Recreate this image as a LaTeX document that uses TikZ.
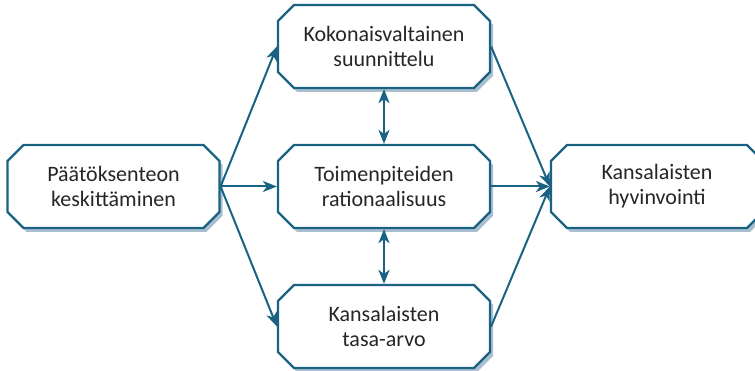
\documentclass[tikz,border=0pt]{standalone}
\usepackage{fontspec}
\setmainfont{Carlito}
\usetikzlibrary{shapes.misc,shadows,arrows.meta}
\definecolor{tealline}{HTML}{1A6282}
\definecolor{shadowblue}{HTML}{6F93AE}
\definecolor{textgray}{HTML}{262626}

\begin{document}
\begin{tikzpicture}[x=1pt, y=1pt,
		box/.style={chamfered rectangle, chamfered rectangle xsep=8pt, chamfered rectangle ysep=8pt,
			draw=tealline, line width=2.2pt, fill=white, minimum width=212pt, minimum height=83pt,
			inner sep=0pt, align=center, text=textgray, font=\fontsize{22}{25}\selectfont,
			drop shadow={shadow xshift=3pt, shadow yshift=-4pt, fill=shadowblue, opacity=.6}},
		link/.style={draw=tealline, line width=2pt, -{Stealth[length=14pt, width=11pt, inset=4pt]}},
		both/.style={link, {Stealth[length=14pt, width=11pt, inset=4pt]}-{Stealth[length=14pt, width=11pt, inset=4pt]}}]
			\useasboundingbox (0,0) rectangle (755,371);
			
			\node[box] (keskitys) at (113.5,184.5){Päätöksenteon\\keskittäminen};
			\node[box] (suunnittelu) at (384,324.5){Kokonaisvaltainen\\suunnittelu};
			\node[box] (rationaalisuus) at (384,184.5){Toimenpiteiden\\rationaalisuus};
			\node[box] (tasaarvo) at (384,44.5){Kansalaisten\\tasa-arvo};
			\node[box] (hyvinvointi) at (657,184.5){Kansalaisten\\hyvinvointi};
			
			\draw[link] (keskitys.east)--(suunnittelu.west);
			\draw[link] (keskitys.east)--(rationaalisuus.west);
			\draw[link] (keskitys.east)--(tasaarvo.west);
			\draw[link] (suunnittelu.east)--(hyvinvointi.west);
			\draw[link] (rationaalisuus.east)--(hyvinvointi.west);
			\draw[link] (tasaarvo.east)--(hyvinvointi.west);
			\draw[both] (suunnittelu.south)--(rationaalisuus.north);
			\draw[both] (rationaalisuus.south)--(tasaarvo.north);
		\end{tikzpicture}
\end{document}
